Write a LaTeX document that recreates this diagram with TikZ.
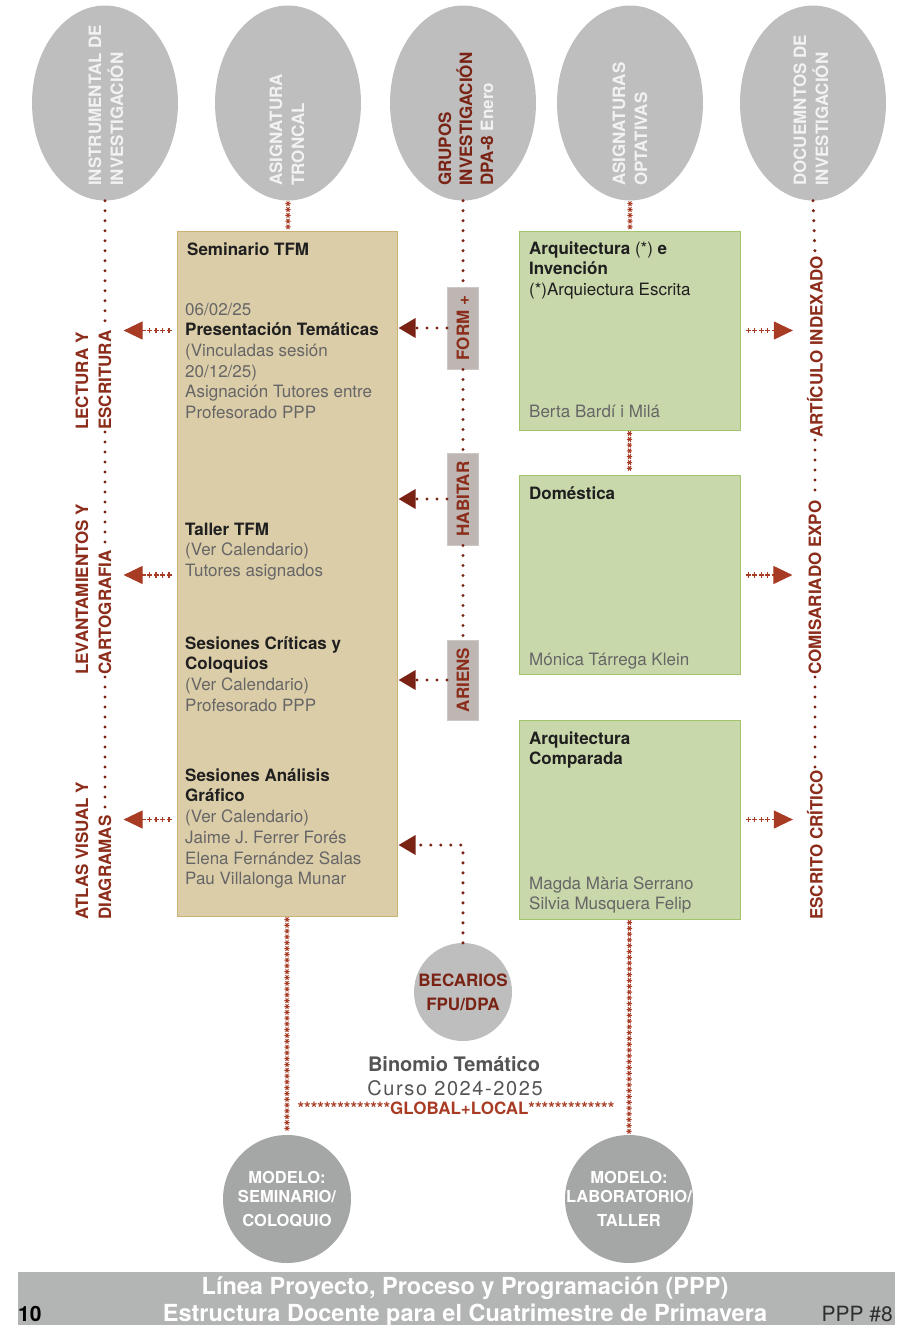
\documentclass[tikz,border=0pt]{standalone}
\usepackage{fontspec}
\setmainfont{TeX Gyre Heros}
\newfontfamily\spacedfont[LetterSpace=8]{TeX Gyre Heros}
\usetikzlibrary{shapes.geometric,arrows.meta,decorations.markings}

\definecolor{ovalgrey}{HTML}{BDBEBD}
\definecolor{circgrey}{HTML}{A5A6A6}
\definecolor{bandgrey}{HTML}{B3B4B4}
\definecolor{tfmfill}{HTML}{DCCDA9}
\definecolor{tfmline}{HTML}{C9B273}
\definecolor{optfill}{HTML}{C9D8AB}
\definecolor{optline}{HTML}{A2C46C}
\definecolor{tagfill}{HTML}{BDB6B3}
\definecolor{darkred}{HTML}{7A2315}
\definecolor{labred}{HTML}{8C2C1A}
\definecolor{plusred}{HTML}{A83B24}
\definecolor{txtdark}{HTML}{1F1F1F}
\definecolor{txtgrey}{HTML}{666666}

\newcommand{\fsz}[2]{\fontsize{#1}{#2}\selectfont}
\newcommand{\tfmhead}[1]{\textbf{\textcolor{txtdark}{#1}}}

\tikzset{
  oval/.style={ellipse, fill=ovalgrey, minimum width=146pt, minimum height=195pt, inner sep=0},
  ovaltext/.style={rotate=90, anchor=west, align=left, inner sep=0, text=white!95!black, font=\fsz{17}{22}\bfseries},
  circ/.style={circle, fill=ovalgrey, inner sep=0},
  tfmbox/.style={draw=tfmline, fill=tfmfill, line width=1pt, minimum width=220pt, minimum height=685pt, inner sep=0},
  optbox/.style={draw=optline, fill=optfill, line width=1pt, minimum width=221pt, minimum height=199pt, inner sep=0},
  boxtext/.style={anchor=north west, align=left, inner sep=0, text=txtgrey, font=\fsz{17}{20.7}},
  tag/.style={rotate=90, fill=tagfill, draw=tagfill!75!white, line width=1pt, minimum height=31pt, inner sep=0, text=labred, font=\fsz{17}{20}\bfseries},
  sidelab/.style={rotate=90, anchor=west, inner sep=2pt, text=labred, font=\fsz{17}{20}\bfseries},
  dotline/.style={draw=darkred, line width=3.4pt, line cap=round, dash pattern=on 0pt off 10pt},
  dotarrow/.style={dotline, -{Triangle[length=17pt,width=19pt]}, shorten >=1pt},
  plusarrow/.style={draw=plusred, line width=1.1pt, dash pattern=on 5pt off 1.5pt, shorten <=5pt, shorten >=#1,
    -{Triangle[length=19pt,width=18pt]},
    postaction={draw=plusred, arrows=-, line width=5.5pt, dash pattern=on 1.1pt off 5.4pt, dash phase=4.5pt, shorten >=#1+22pt}},
  starline/.style={postaction={decorate}, decoration={markings,
    mark=between positions 3pt and -2pt step 5.8pt with {
      \draw[plusred, line width=1pt] (0,-2.7pt) -- (0,2.7pt) (-2.3pt,-1.35pt) -- (2.3pt,1.35pt) (-2.3pt,1.35pt) -- (2.3pt,-1.35pt);}}},
}

\begin{document}
\begin{tikzpicture}[x=1pt,y=-1pt]
\useasboundingbox (0,0) rectangle (910,1325);

% top ovals
\node[oval] (oval1) at (105,103) {};
\node[ovaltext] (oval1t) at (106,186) {INSTRUMENTAL DE\\INVESTIGACIÓN};
\node[oval] (oval2) at (288,103) {};
\node[ovaltext] (oval2t) at (287,186) {ASIGNATURA\\TRONCAL};
\node[oval] (oval3) at (463,103) {};
\node[ovaltext, font=\fsz{17}{21}\bfseries] (oval3t) at (466,186) {\textcolor{darkred}{GRUPOS}\\\textcolor{darkred}{INVESTIGACIÓN}\\\textcolor{darkred}{DPA-8} Enero};
\node[oval] (oval4) at (630,103) {};
\node[ovaltext] (oval4t) at (630,186) {ASIGNATURAS\\OPTATIVAS};
\node[oval] (oval5) at (813,103) {};
\node[ovaltext] (oval5t) at (811,186) {DOCUEMNTOS DE\\INVESTIGACIÓN};

% boxes
\node[tfmbox] (tfm) at (287,573.5) {};
\node[optbox] (arq) at (629.5,330.5) {};
\node[optbox] (dom) at (629.5,575) {};
\node[optbox] (comp) at (629.5,819.5) {};

% texts of the troncal box
\node[boxtext] (sem) at (187,240.5) {\strut\tfmhead{Seminario TFM}};
\node[boxtext] (pres) at (185,300.5) {\strut 06/02/25\\\tfmhead{Presentación Temáticas}\\(Vinculadas sesión\\20/12/25)\\Asignación Tutores entre\\Profesorado PPP};
\node[boxtext] (tall) at (185,520.5) {\strut\tfmhead{Taller TFM}\\(Ver Calendario)\\Tutores asignados};
\node[boxtext] (crit) at (185,634.5) {\strut\tfmhead{Sesiones Críticas y}\\\tfmhead{Coloquios}\\(Ver Calendario)\\Profesorado PPP};
\node[boxtext] (anal) at (185,766.5) {\strut\tfmhead{Sesiones Análisis}\\\tfmhead{Gráfico}\\(Ver Calendario)\\Jaime J. Ferrer Forés\\Elena Fernández Salas\\Pau Villalonga Munar};

% texts of the optativas
\node[boxtext] (arqt) at (529,239.5) {\strut\tfmhead{Arquitectura} \textcolor{txtdark}{(*)} \tfmhead{e}\\\tfmhead{Invención}\\\textcolor{txtdark}{(*)Arquiectura Escrita}};
\node[boxtext] (arqn) at (529,402.5) {\strut Berta Bardí i Milá};
\node[boxtext] (domt) at (529,484.5) {\strut\tfmhead{Doméstica}};
\node[boxtext] (domn) at (529,650.5) {\strut Mónica Tárrega Klein};
\node[boxtext] (compt) at (529,729.5) {\strut\tfmhead{Arquitectura}\\\tfmhead{Comparada}};
\node[boxtext] (compn) at (529,874.5) {\strut Magda Mària Serrano\\Silvia Musquera Felip};

% left column
\node[sidelab] (lect1) at (82,432) {LECTURA Y};
\node[sidelab] (lect2) at (105,432) {ESCRITURA};
\node[sidelab] (levt1) at (82,677) {LEVANTAMIENTOS Y};
\node[sidelab] (levt2) at (105,677) {CARTOGRAFIA};
\node[sidelab] (atl1) at (82,922) {ATLAS VISUAL Y};
\node[sidelab] (atl2) at (105,922) {DIAGRAMAS};
\draw[dotline] (oval1.south) -- (lect2.east);
\draw[dotline] (lect2.west) -- (levt2.east);
\draw[dotline] (levt2.west) -- (atl2.east);

% right column
\node[sidelab] (art) at (815,440) {ARTÍCULO INDEXADO};
\node[sidelab] (com) at (815,677) {COMISARIADO EXPO};
\node[sidelab] (esc) at (815,922) {ESCRITO CRÍTICO};
\draw[dotline] (oval5.south) -- (art.east);
\draw[dotline] (art.west) -- (com.east);
\draw[dotline] (com.west) -- (esc.east);

% middle column
\node[tag, minimum width=82pt] (form) at (463,328) {FORM +};
\node[tag, minimum width=92pt] (hab) at (463,499) {HABITAR};
\node[tag, minimum width=80pt] (ari) at (463,680) {ARIENS};
\draw[dotline] (oval3.south) -- (form.east);
\draw[dotline] (form.west) -- (hab.east);
\draw[dotline] (hab.west) -- (ari.east);
\draw[dotarrow] (form.north) -- (form.north -| tfm.east);
\draw[dotarrow] (hab.north) -- (hab.north -| tfm.east);
\draw[dotarrow] (ari.north) -- (ari.north -| tfm.east);

% arrows out
\draw[plusarrow=10pt] (tfm.west |- arq.east) -- (lect2.south |- arq.east);
\draw[plusarrow=10pt] (tfm.west |- dom.east) -- (levt2.south |- dom.east);
\draw[plusarrow=10pt] (tfm.west |- comp.east) -- (atl2.south |- comp.east);
\draw[plusarrow=12pt] (arq.east) -- (arq.east -| art.north);
\draw[plusarrow=14pt] (dom.east) -- (dom.east -| com.north);
\draw[plusarrow=12pt] (comp.east) -- (comp.east -| esc.north);

% becarios
\node[circ, minimum size=98pt] (bec) at (463,992) {};
\node[align=center, text=darkred, font=\fsz{17}{24}\bfseries] (bect) at (bec) {BECARIOS\\FPU/DPA};
\draw[dotarrow] (bec.north) |- (tfm.east |- 0,845);

% modelos
\node[circ, fill=circgrey, minimum size=128pt] (mod1) at (287,1199) {};
\node[align=center, text=white, font=\fsz{16.5}{19}\bfseries] (mod1t) at (mod1) {MODELO:\\SEMINARIO/\\[5pt]COLOQUIO};
\node[circ, fill=circgrey, minimum size=128pt] (mod2) at (629,1199) {};
\node[align=center, text=white, font=\fsz{16.5}{19}\bfseries] (mod2t) at (mod2) {MODELO:\\LABORATORIO/\\[5pt]TALLER};

\path[starline] (oval2.south) -- (oval2.south |- tfm.north);
\path[starline] (oval4.south) -- (oval4.south |- arq.north);
\path[starline] (arq.south) -- (dom.north);
\path[starline] (tfm.south) -- (mod1.north);
\path[starline] (comp.south) -- (mod2.north);
\node[text=plusred, font=\fsz{17}{20}\bfseries, inner sep=0] (glob) at (456,1108) {**************GLOBAL+LOCAL*************};

% binomio
\node[anchor=base, text=black!67, font=\fsz{20}{24}\bfseries] (bin) at (454,1071) {Binomio Temático};
\node[anchor=base, text=black!67, font=\fsz{20}{24}\spacedfont] (curso) at (455,1095) {Curso 2024-2025};

% band
\fill[bandgrey] (18,1272) rectangle (895,1325);
\node[anchor=base, text=white, font=\fsz{23.5}{27}\bfseries] (line1) at (465,1294) {Línea Proyecto, Proceso y Programación (PPP)};
\node[anchor=base, text=white, font=\fsz{23.5}{27}\bfseries] (line2) at (465,1321) {Estructura Docente para el Cuatrimestre de Primavera};
\node[anchor=base west, inner sep=0, text=black, font=\fsz{21}{24}\bfseries] (pnum) at (18,1321) {10};
\node[anchor=base east, inner sep=0, text=black!82, font=\fsz{21}{24}] (pppn) at (893,1321) {PPP \#8};
\end{tikzpicture}
\end{document}
